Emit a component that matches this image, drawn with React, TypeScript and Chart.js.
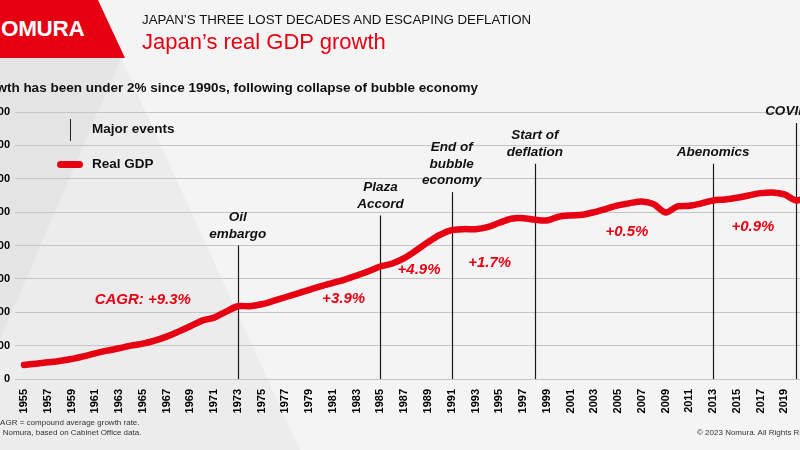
import React, { useEffect, useRef } from "react";
import { Chart, registerables } from "chart.js";

Chart.register(...registerables);

const FONT = '"Liberation Sans", Arial, Helvetica, sans-serif';
const RED = "#e60012";

// ---- data ----
const years = [
  1955, 1956, 1957, 1958, 1959, 1960, 1961, 1962, 1963, 1964, 1965, 1966, 1967, 1968, 1969,
  1970, 1971, 1972, 1973, 1974, 1975, 1976, 1977, 1978, 1979, 1980, 1981, 1982, 1983, 1984,
  1985, 1986, 1987, 1988, 1989, 1990, 1991, 1992, 1993, 1994, 1995, 1996, 1997, 1998, 1999,
  2000, 2001, 2002, 2003, 2004, 2005, 2006, 2007, 2008, 2009, 2010, 2011, 2012, 2013, 2014,
  2015, 2016, 2017, 2018, 2019, 2020, 2021, 2022,
];
const realGdp = [
  42, 46, 50, 54, 60, 68, 77, 85, 92, 100, 106, 115, 127, 142, 158,
  175, 184, 202, 218, 218, 224, 234, 245, 256, 267, 278, 288, 298, 310, 323,
  337, 346, 362, 385, 410, 432, 446, 449, 449, 455, 468, 480, 482, 477, 475,
  486, 490, 492, 500, 510, 520, 527, 532, 524, 499, 517, 519, 526, 535, 538,
  543, 550, 557, 559, 553, 535, 545, 550,
];
const tickYears = [
  1955, 1957, 1959, 1961, 1963, 1965, 1967, 1969, 1971, 1973, 1975, 1977, 1979, 1981, 1983,
  1985, 1987, 1989, 1991, 1993, 1995, 1997, 1999, 2001, 2003, 2005, 2007, 2009, 2011, 2013,
  2015, 2017, 2019, 2021,
];
const yTicks = [0, 100, 200, 300, 400, 500, 600, 700, 800];

const eventNames = [
  ["Oil", "embargo"],
  ["Plaza", "Accord"],
  ["End of", "bubble", "economy"],
  ["Start of", "deflation"],
  ["Abenomics"],
  ["COVID-19"],
];
const eventYears = [1973, 1985, 1991, 1998, 2013, 2020];
const eventTops = [400, 490, 560, 645, 645, 767];

const cagrTexts = ["CAGR: +9.3%", "+3.9%", "+4.9%", "+1.7%", "+0.5%", "+0.9%"];
const cagrYears = [1965.0, 1981.9, 1988.25, 1994.2, 2005.75, 2016.35];
const cagrValues = [237, 240, 327, 348, 442, 457];

const annotPlugin = {
  id: "annot",
  beforeDatasetsDraw(chart: any) {
    const { ctx, scales } = chart;
    const x = scales.x;
    const y = scales.y;
    ctx.save();
    ctx.strokeStyle = "#1a1a1a";
    ctx.lineWidth = 1.2;
    eventYears.forEach((yr, i) => {
      const px = Math.round(x.getPixelForValue(yr)) + 0.5;
      ctx.beginPath();
      ctx.moveTo(px, y.getPixelForValue(eventTops[i]));
      ctx.lineTo(px, y.getPixelForValue(0));
      ctx.stroke();
    });
    ctx.restore();
  },
  afterDatasetsDraw(chart: any) {
    const { ctx, scales } = chart;
    const x = scales.x;
    const y = scales.y;
    ctx.save();
    ctx.textAlign = "center";
    ctx.textBaseline = "middle";
    ctx.fillStyle = "#111";
    ctx.font = `italic bold 13.5px ${FONT}`;
    eventYears.forEach((yr, i) => {
      const px = x.getPixelForValue(yr);
      const top = y.getPixelForValue(eventTops[i]);
      const lines = eventNames[i];
      const n = lines.length;
      lines.forEach((t, j) => {
        ctx.fillText(t, px, top - 11.5 - (n - 1 - j) * 16.5);
      });
    });
    ctx.fillStyle = RED;
    ctx.font = `italic bold 15px ${FONT}`;
    cagrTexts.forEach((t, i) => {
      ctx.fillText(t, x.getPixelForValue(cagrYears[i]), y.getPixelForValue(cagrValues[i]));
    });
    ctx.restore();
  },
};

function GdpChart() {
  const ref = useRef<HTMLCanvasElement | null>(null);
  useEffect(() => {
    if (!ref.current) return;
    const chart = new Chart(ref.current, {
      type: "line",
      data: {
        datasets: [
          {
            label: "Real GDP",
            data: years.map((yr, i) => ({ x: yr, y: realGdp[i] })),
            borderColor: RED,
            backgroundColor: RED,
            borderWidth: 6.5,
            pointRadius: 0,
            tension: 0.3,
            borderCapStyle: "round",
            borderJoinStyle: "round",
            fill: false,
          },
        ],
      },
      options: {
        responsive: false,
        maintainAspectRatio: false,
        animation: false,
        layout: { padding: { top: 112, bottom: 31, left: 0, right: 10 } },
        plugins: { legend: { display: false }, tooltip: { enabled: false } },
        scales: {
          x: {
            type: "linear",
            min: 1954.242,
            max: 2022.84,
            grid: { display: false },
            border: { display: false },
            afterBuildTicks: (s: any) => {
              s.ticks = tickYears.map((v) => ({ value: v }));
            },
            afterFit: (s: any) => {
              s.height = 40;
            },
            ticks: {
              autoSkip: false,
              minRotation: 90,
              maxRotation: 90,
              padding: 2,
              color: "#000",
              font: { family: FONT, size: 11, weight: "bold" },
              callback: (v: any) => String(v),
            },
          },
          y: {
            min: 0,
            max: 800,
            afterBuildTicks: (s: any) => {
              s.ticks = yTicks.map((v) => ({ value: v }));
            },
            afterFit: (s: any) => {
              s.width = 55;
            },
            grid: { color: "#c4c4c4", lineWidth: 1, drawTicks: false },
            border: { display: false },
            ticks: {
              padding: 5,
              color: "#000",
              font: { family: FONT, size: 11, weight: "bold" },
              callback: (v: any) => String(v),
            },
          },
        },
      },
      plugins: [annotPlugin],
    } as any);
    return () => chart.destroy();
  }, []);
  return (
    <canvas
      ref={ref}
      width={880}
      height={450}
      style={{ position: "absolute", left: -40, top: 0, width: 880, height: 450 }}
    />
  );
}

export default function App() {
  const abs: React.CSSProperties = { position: "absolute", whiteSpace: "nowrap" };
  return (
    <div
      style={{
        position: "fixed",
        left: 0,
        top: 0,
        width: 800,
        height: 450,
        overflow: "hidden",
        background: "#f4f4f4",
        fontFamily: FONT,
        color: "#111",
      }}
    >
      {/* background shapes */}
      <div
        style={{
          ...abs,
          left: 0,
          top: 0,
          width: 800,
          height: 450,
          background: "#ececec",
          clipPath: "polygon(0 58px, 121px 58px, 300px 450px, 0 450px)",
        }}
      />
      <div
        style={{
          ...abs,
          left: 0,
          top: 0,
          width: 800,
          height: 450,
          background: "#e4e4e4",
          clipPath: "polygon(0 58px, 121px 58px, 0 340px)",
        }}
      />
      <div
        style={{
          ...abs,
          left: 0,
          top: 0,
          width: 200,
          height: 60,
          background: RED,
          clipPath: "polygon(0 0, 98px 0, 125px 58px, 0 58px)",
        }}
      />
      <div
        style={{
          ...abs,
          left: -15,
          top: 18,
          fontSize: 22.5,
          lineHeight: "22.5px",
          fontWeight: 700,
          color: "#fff",
          letterSpacing: -0.3,
        }}
      >
        NOMURA
      </div>

      <GdpChart />

      {/* titles */}
      <div style={{ ...abs, left: 142, top: 12.8, fontSize: 13.3, lineHeight: "13.3px", color: "#111" }}>
        JAPAN’S THREE LOST DECADES AND ESCAPING DEFLATION
      </div>
      <div style={{ ...abs, left: 142, top: 31.4, fontSize: 22, lineHeight: "22px", color: RED }}>
        Japan’s real GDP growth
      </div>
      <div
        style={{
          ...abs,
          right: 322,
          top: 80.6,
          fontSize: 13.5,
          lineHeight: "13.5px",
          fontWeight: 700,
          color: "#111",
        }}
      >
        Real GDP growth has been under 2% since 1990s, following collapse of bubble economy
      </div>

      {/* legend */}
      <div style={{ ...abs, left: 70, top: 119, width: 1.2, height: 22, background: "#222" }} />
      <div style={{ ...abs, left: 92, top: 122.4, fontSize: 13.5, lineHeight: "13.5px", fontWeight: 700 }}>
        Major events
      </div>
      <div
        style={{ ...abs, left: 57, top: 161, width: 26, height: 6.5, borderRadius: 3.5, background: RED }}
      />
      <div style={{ ...abs, left: 92, top: 157.4, fontSize: 13.5, lineHeight: "13.5px", fontWeight: 700 }}>
        Real GDP
      </div>

      {/* footer */}
      <div style={{ ...abs, left: -27, top: 419.2, fontSize: 8, lineHeight: "8px", color: "#333" }}>
        Note: CAGR = compound average growth rate.
      </div>
      <div style={{ ...abs, left: -27, top: 429.2, fontSize: 8, lineHeight: "8px", color: "#333" }}>
        Source: Nomura, based on Cabinet Office data.
      </div>
      <div style={{ ...abs, left: 697, top: 429.2, fontSize: 8, lineHeight: "8px", color: "#333" }}>
        © 2023 Nomura. All Rights Reserved.
      </div>
    </div>
  );
}
